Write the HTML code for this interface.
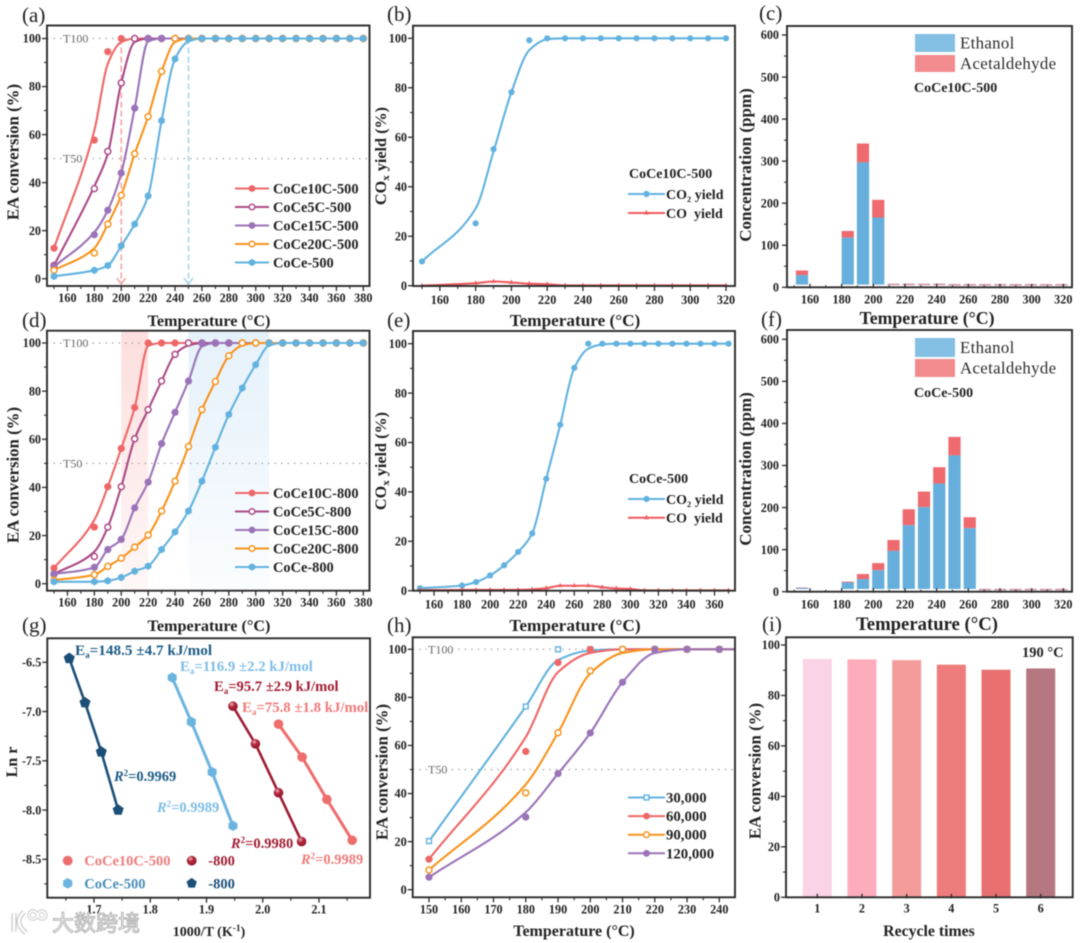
<!DOCTYPE html>
<html lang="en">
<head>
<meta charset="utf-8">
<title>Catalyst performance figure</title>
<style>
html,body{margin:0;padding:0;background:#fff;width:1080px;height:943px;overflow:hidden}
svg{display:block;font-family:"Liberation Serif","Noto Sans CJK SC",serif;filter:blur(.5px)}
.pl{font-size:21px;fill:#222}
.at{font-weight:bold;fill:#222;text-anchor:middle}
.an{font-weight:bold}
</style>
</head>
<body>
<svg id="fig" xmlns="http://www.w3.org/2000/svg" width="1080" height="943" viewBox="0 0 1080 943">
<defs>
<linearGradient id="bandRed" x1="0" y1="0" x2="0" y2="1"><stop offset="0" stop-color="#fcdfde"/><stop offset="1" stop-color="#fff7f7"/></linearGradient>
<linearGradient id="bandBlue" x1="0" y1="0" x2="0" y2="1"><stop offset="0" stop-color="#e5f1fa"/><stop offset="1" stop-color="#fbfdff"/></linearGradient>
<radialGradient id="sphere" cx=".38" cy=".3" r=".8"><stop offset="0" stop-color="#f3b9c0"/><stop offset=".35" stop-color="#b32a3e"/><stop offset="1" stop-color="#8a1226"/></radialGradient>
</defs>
<rect width="1080" height="943" fill="#fff"/>
<g id="plots"></g>

<g>
<text class="pl" x="22" y="22">(a)</text>
<text class="pl" x="387" y="21">(b)</text>
<text class="pl" x="759" y="20">(c)</text>
<text class="pl" x="22" y="327">(d)</text>
<text class="pl" x="387" y="327">(e)</text>
<text class="pl" x="761" y="326">(f)</text>
<text class="pl" x="22" y="632">(g)</text>
<text class="pl" x="387" y="632">(h)</text>
<text class="pl" x="762" y="631">(i)</text>
</g>

<g>
<text class="at" x="209" y="326" font-size="16.2">Temperature (°C)</text>
<text class="at" x="575" y="326" font-size="17.2">Temperature (°C)</text>
<text class="at" x="927" y="324" font-size="17.8">Temperature (°C)</text>
<text class="at" x="209" y="631" font-size="16.2">Temperature (°C)</text>
<text class="at" x="575" y="631" font-size="17.3">Temperature (°C)</text>
<text class="at" x="927" y="630" font-size="18.7">Temperature (°C)</text>
<text class="at" x="209" y="936" font-size="14">1000/T (K<tspan dy="-5" font-size="9.5">-1</tspan><tspan dy="5">)</tspan></text>
<text class="at" x="574" y="936" font-size="16">Temperature (°C)</text>
<text class="at" x="929" y="936" font-size="15.8">Recycle times</text>
</g>

<g>
<text class="at" transform="translate(18.5 152) rotate(-90)" font-size="16.8">EA conversion (%)</text>
<text class="at" transform="translate(386 156) rotate(-90)" font-size="16.2">CO<tspan font-size="11" dy="3">x</tspan><tspan dy="-3"> yield (%)</tspan></text>
<text class="at" transform="translate(751 165) rotate(-90)" font-size="17">Concentration (ppm)</text>
<text class="at" transform="translate(18.5 475) rotate(-90)" font-size="16.8">EA conversion (%)</text>
<text class="at" transform="translate(386 461) rotate(-90)" font-size="16.2">CO<tspan font-size="11" dy="3">x</tspan><tspan dy="-3"> yield (%)</tspan></text>
<text class="at" transform="translate(751 469) rotate(-90)" font-size="17">Concentration (ppm)</text>
<text class="at" transform="translate(17 762) rotate(-90)" font-size="16">Ln r</text>
<text class="at" transform="translate(387.5 772) rotate(-90)" font-size="16.8">EA conversion (%)</text>
<text class="at" transform="translate(760.5 771) rotate(-90)" font-size="16.8">EA conversion (%)</text>
</g>

<g class="an">
<text x="629" y="178" font-size="14" fill="#222">CoCe10C-500</text>
<text x="629" y="483" font-size="14" fill="#222">CoCe-500</text>
<text x="914" y="92" font-size="14" fill="#222">CoCe10C-500</text>
<text x="914" y="397" font-size="14" fill="#222">CoCe-500</text>
<text x="1022" y="657" font-size="14.5" fill="#222">190 °C</text>

<text x="75" y="655" font-size="15.2" fill="#1d5b85">E<tspan dy="3" font-size="9">a</tspan><tspan dy="-3">=148.5 ±4.7 kJ/mol</tspan></text>
<text x="180" y="671" font-size="14.8" fill="#7dbde6">E<tspan dy="3" font-size="9">a</tspan><tspan dy="-3">=116.9 ±2.2 kJ/mol</tspan></text>
<text x="214" y="691" font-size="14.6" fill="#a01c32">E<tspan dy="3" font-size="9">a</tspan><tspan dy="-3">=95.7 ±2.9 kJ/mol</tspan></text>
<text x="242" y="712" font-size="14.8" fill="#ef7a7a">E<tspan dy="3" font-size="9">a</tspan><tspan dy="-3">=75.8 ±1.8 kJ/mol</tspan></text>

<text x="114" y="781" font-size="14.5" fill="#1d5b85"><tspan font-style="italic">R</tspan><tspan dy="-5" font-size="9">2</tspan><tspan dy="5">=0.9969</tspan></text>
<text x="157" y="812" font-size="14.5" fill="#7dbde6"><tspan font-style="italic">R</tspan><tspan dy="-5" font-size="9">2</tspan><tspan dy="5">=0.9989</tspan></text>
<text x="231" y="848" font-size="14.5" fill="#a01c32"><tspan font-style="italic">R</tspan><tspan dy="-5" font-size="9">2</tspan><tspan dy="5">=0.9980</tspan></text>
<text x="301" y="864" font-size="14.5" fill="#ef7a7a"><tspan font-style="italic">R</tspan><tspan dy="-5" font-size="9">2</tspan><tspan dy="5">=0.9989</tspan></text>
</g>

<g>
<g fill="none" stroke="#c4c4c4" stroke-width="5">
<path d="M14 913 V932 M24 912 Q13 922 26 933"/>
<circle cx="33" cy="915" r="4" stroke-width="3.4"/>
<circle cx="42" cy="915" r="4" stroke-width="3.4"/>
</g>
<g fill="none" stroke="#fafafa" stroke-width="3">
<path d="M14 913 V932 M24 912 Q13 922 26 933"/>
<circle cx="33" cy="915" r="4" stroke-width="2"/>
<circle cx="42" cy="915" r="4" stroke-width="2"/>
</g>
<text x="52" y="931" font-size="22" style="font-family:'Liberation Sans','Noto Sans CJK SC',sans-serif" fill="#fafafa" stroke="#b5b5b5" stroke-width="1">大数跨境</text>
</g>
</svg>

<script>
/* ---------- chart data ---------- */
const tempsWide = [150,180,190,200,210,220,230,240,250,260,270,280,290,300,310,320,330,340,350,360,370,380];

/* panel a */
const a10C  = [12.7,57.7,94.5,100,100,100,100,100,100,100,100,100,100,100,100,100,100,100,100,100,100,100];
const a5C   = [5.5,37.5,53,81.5,100,100,100,100,100,100,100,100,100,100,100,100,100,100,100,100,100,100];
const a15C  = [5,18.3,28.5,44,71,100,100,100,100,100,100,100,100,100,100,100,100,100,100,100,100,100];
const a20C  = [3.5,10.7,22.7,34.7,52,67.5,86.3,100,100,100,100,100,100,100,100,100,100,100,100,100,100,100];
const aCoCe = [1,3.5,5.5,13.7,22.7,34.5,65.8,91.5,100,100,100,100,100,100,100,100,100,100,100,100,100,100];
/* gap between fitted curve and measured point, in % */
const a10CFit = {180:4,190:-5,200:-1.5};
const a5CFit = {180:1,190:-1,210:-1.5};
const a15CFit = {180:1,220:-1.2};
const a20CFit = {180:2,240:-1.5};
const aCoCeFit = {250:-1.2};
const aT100Arrows = [200,250];

/* panel d */
const d10C  = [6.5,23.5,40.3,56.2,73.2,100,100,100,100,100,100,100,100,100,100,100,100,100,100,100,100,100];
const d5C   = [4,11.3,23.5,40.3,60.2,72.3,84.2,95.3,100,100,100,100,100,100,100,100,100,100,100,100,100,100];
const d15C  = [4,6.8,14.2,18.4,31.5,42.2,58.2,71.2,84.2,100,100,100,100,100,100,100,100,100,100,100,100,100];
const d20C  = [1.5,3.7,7.2,10.6,15.2,20.2,30.2,42.6,57,72.3,84,94.7,100,100,100,100,100,100,100,100,100,100];
const dCoCe = [0.8,0.8,1.2,2.6,5.2,7.3,14.2,21.5,30.2,42.6,56.7,70.3,81.3,91,100,100,100,100,100,100,100,100];
const d10CFit = {180:3,220:-1.2};
const d5CFit = {180:2,250:-1};
const d15CFit = {260:-1.5};
const d20CFit = {290:-1};
const dCoCeFit = {310:-1};
const dBandRed = [200,220];
const dBandBlue = [250,310];

/* panel b */
const bTemps = [150,180,190,200,210,220,230,240,250,260,270,280,290,300,310,320];
const bCO2 = [9.8,25.2,55.2,78.2,99.2,100,100,100,100,100,100,100,100,100,100,100];
const bCO  = [0,1,1.7,1.3,0.8,0.6,0.1,0.1,0.1,0.1,0.1,0.1,0.1,0.1,0.1,0.1];
const bCO2Fit = {180:6,190:-1,210:-4,220:-.4};

/* panel e */
const eTemps = [150,180,190,200,210,220,230,240,250,260,270,280,290,300,310,320,330,340,350,360,370];
const eCO2 = [1,2.1,3.5,6.2,10.3,15.7,23.2,45.3,67.2,90.2,100,100,100,100,100,100,100,100,100,100,100];
const eCO  = [0.2,0.3,0.3,0.3,0.3,0.3,0.5,1,2,2,2,1.4,0.9,0.7,0.1,0.1,0.1,0.1,0.1,0.1,0.1];
const eCO2Fit = {270:-2,280:-.3};

/* panels c and f */
const barTemps = [150,180,190,200,210,220,230,240,250,260,270,280,290,300,310,320];
const cEthanol = [29,118,297,166,6,6,6,6,6,6,6,6,6,6,6,6];
const cTotal   = [40,134,342,208,7,7,7,7,6,6,6,6,6,6,6,6];
const fEthanol = [9,22,30,51,97,158,201,257,324,151,4,4,4,4,4,4];
const fTotal   = [10,24,42,68,123,196,238,296,368,177,5,5,5,5,5,5];

/* panel g */
const g800Co  = [1.656,1.684,1.713,1.743];
const g800Ln  = [-6.46,-6.91,-7.41,-8.0];
const g500Co  = [1.839,1.873,1.910,1.947];
const g500Ln  = [-6.655,-7.105,-7.615,-8.16];
const g10C800X = [1.947,1.987,2.028,2.069];
const g10C800Y = [-6.946,-7.328,-7.824,-8.32];
const g10C500X = [2.028,2.070,2.114,2.159];
const g10C500Y = [-7.128,-7.463,-7.892,-8.307];

/* panel h */
const hTemps = [150,180,190,200,210,220,230,240,250];
const h30k  = [20.2,76.2,100,100,100,100,100,100,100];
const h60k  = [12.7,57.5,94.5,100,100,100,100,100,100];
const h90k  = [8.2,40.3,65.3,91,100,100,100,100,100];
const h120k = [5.2,30.2,48.3,65.2,86.3,100,100,100,100];
const h30kFit = {190:-4.5,200:-.5};
const h60kFit = {180:6,190:-4,200:-1.5};
const h90kFit = {180:3.5,200:-1,210:-1.5};
const h120kFit = {180:2,220:-1.5};

/* panel i */
const recycleRuns = [1,2,3,4,5,6];
const recycleValues = [94.5,94.3,94,92.2,90.2,90.7];
const recycleColors = ['#FBD3E6','#FDACBB','#F49C9C','#EF7C7C','#E87070','#B57780'];

/* tick labels */
const xTicksWide = [160,180,200,220,240,260,280,300,320,340,360,380];
const xTicksB = [160,180,200,220,240,260,280,300,320];
const xTicksE = [160,180,200,220,240,260,280,300,320,340,360];
const xTicksG = [1.7,1.8,1.9,2.0,2.1];
const xTicksH = [150,160,170,180,190,200,210,220,230,240];
const yTicksPct = [0,20,40,60,80,100];
const yTicksPpm = [0,100,200,300,400,500,600];
const yTicksLn = [-6.5,-7.0,-7.5,-8.0,-8.5];

/* ---------- helpers ---------- */
const NS = 'http://www.w3.org/2000/svg';
const root = document.getElementById('plots');
function el(tag, attrs, parent){
  const n = document.createElementNS(NS, tag);
  for (const k in attrs) n.setAttribute(k, attrs[k]);
  parent.appendChild(n);
  return n;
}
function scale(d0, r0, d1, r1){
  return v => r0 + (v - d0) * (r1 - r0) / (d1 - d0);
}
function smoothPath(xs, ys){
  const n = xs.length, h = [], m = [], t = [];
  for (let i = 0; i < n - 1; i++){
    h[i] = xs[i+1] - xs[i];
    m[i] = (ys[i+1] - ys[i]) / h[i];
  }
  t[0] = m[0];
  t[n-1] = m[n-2];
  for (let i = 1; i < n - 1; i++){
    t[i] = m[i-1] * m[i] <= 0 ? 0 :
      3 * (h[i-1] + h[i]) / ((2*h[i] + h[i-1]) / m[i-1] + (h[i] + 2*h[i-1]) / m[i]);
  }
  let d = 'M' + xs[0].toFixed(2) + ' ' + ys[0].toFixed(2);
  for (let i = 0; i < n - 1; i++){
    d += 'C' + (xs[i] + h[i]/3).toFixed(2) + ' ' + (ys[i] + t[i]*h[i]/3).toFixed(2) + ' ' +
         (xs[i+1] - h[i]/3).toFixed(2) + ' ' + (ys[i+1] - t[i+1]*h[i]/3).toFixed(2) + ' ' +
         xs[i+1].toFixed(2) + ' ' + ys[i+1].toFixed(2);
  }
  return d;
}
function polyPoints(x, y, r, sides, rot){
  const p = [];
  for (let i = 0; i < sides; i++){
    const a = rot + i * 2 * Math.PI / sides;
    p.push((x + r*Math.cos(a)).toFixed(2) + ',' + (y + r*Math.sin(a)).toFixed(2));
  }
  return p.join(' ');
}
function drawMarker(parent, type, x, y, r, color, name){
  let m;
  if (type === 'circle') m = el('circle', {cx:x, cy:y, r:r, fill:color}, parent);
  else if (type === 'open') m = el('circle', {cx:x, cy:y, r:r-0.6, fill:'#fff', stroke:color, 'stroke-width':1.5}, parent);
  else if (type === 'sphere') m = el('circle', {cx:x, cy:y, r:r, fill:'url(#sphere)'}, parent);
  else if (type === 'square') m = el('rect', {x:x-r+.6, y:y-r+.6, width:2*r-1.2, height:2*r-1.2, fill:'#fff', stroke:color, 'stroke-width':1.4}, parent);
  else if (type === 'hex') m = el('polygon', {points:polyPoints(x, y, r*1.08, 6, Math.PI/6), fill:color}, parent);
  else if (type === 'pent') m = el('polygon', {points:polyPoints(x, y, r*1.1, 5, -Math.PI/2), fill:color}, parent);
  else m = el('polygon', {points:polyPoints(x, y, r, 3, -Math.PI/2), fill:color}, parent);
  
  
  return m;
}

let clipCount = 0;
function makePanel(id, f, sx, sy, xTicks, yTicks, o){
  o = o || {};
  const g = el('g', {}, root);
  
  
  const back = el('g', {}, g);
  
  
  const clipId = 'clip' + (++clipCount);
  const cp = el('clipPath', {id:clipId}, g);
  el('rect', {x:f.l, y:f.t, width:f.r-f.l, height:f.b-f.t}, cp);
  back.setAttribute('clip-path', 'url(#' + clipId + ')');

  const axes = el('g', {stroke:'#2b2b2b', 'font-size':12.2}, g);
  
  
  function tick(x1, y1, x2, y2, w, name){
    const t = el('line', {x1:x1, y1:y1, x2:x2, y2:y2, 'stroke-width':w}, axes);
    
    
  }
  const up = o.xCross ? 3.5 : 0, dn = o.xCross ? 1 : 5;
  xTicks.forEach(v => {
    const x = sx(v);
    tick(x, f.b - up, x, f.b + dn, 1.3, 'x-tick-' + id);
    const lb = el('text', {x:x, y:f.b + (o.xLabelGap || 16), 'text-anchor':'middle', 'font-weight':'bold', fill:'#222', stroke:'none'}, axes);
    lb.textContent = o.xFmt ? o.xFmt(v) : v;
    
    
  });
  if (!o.noXMinor && xTicks.length > 1){
    const step = xTicks[1] - xTicks[0];
    for (let v = xTicks[0] - step/2; v <= xTicks[xTicks.length-1] + step; v += step){
      const x = sx(v);
      if (x > f.l + 1 && x < f.r - 1) tick(x, f.b - (o.xCross ? 2 : 0), x, f.b + (o.xCross ? 0 : 3), 1.1, 'x-minor-tick-' + id);
    }
  }
  yTicks.forEach(v => {
    const y = sy(v);
    tick(f.l - 5, y, f.l, y, 1.3, 'y-tick-' + id);
    const lb = el('text', {x:f.l - (o.yLabelGap || 6), y:y + 4.2, 'text-anchor':'end', 'font-weight':'bold', fill:'#222', stroke:'none'}, axes);
    lb.textContent = o.yFmt ? o.yFmt(v) : v;
    
    
  });
  const ystep = yTicks[1] - yTicks[0];
  for (let v = yTicks[0] - ystep/2; ; v += ystep){
    const y = sy(v);
    if (ystep > 0 ? y < f.t : y > f.b) break;
    if (y > f.t + 1 && y < f.b - 1) tick(f.l - 3, y, f.l, y, 1.1, 'y-minor-tick-' + id);
  }
  const frame = el('rect', {x:f.l, y:f.t, width:f.r-f.l, height:f.b-f.t, fill:'none', stroke:'#2b2b2b', 'stroke-width':1.9}, g);
  
  
  return {g:g, back:back, sx:sx, sy:sy, f:f, id:id};
}

function addSeries(p, xs, values, fit, color, marker, r, name, lw){
  const s = el('g', {}, p.back);
  
  
  const px = xs.map(p.sx);
  const py = values.map((v, i) => p.sy(v + ((fit && fit[xs[i]]) || 0)));
  const line = el('path', {d:smoothPath(px, py), fill:'none', stroke:color, 'stroke-width':lw || 2.1}, s);
  
  
  values.forEach((v, i) => drawMarker(s, marker, px[i], p.sy(v), r, color, 'point-' + name));
}

function addGuides(p, labelX){
  [[100,'T100'],[50,'T50']].forEach(([v, label]) => {
    const y = p.sy(v);
    const l = el('line', {x1:p.f.l, x2:p.f.r, y1:y, y2:y, stroke:'#8e8e8e', 'stroke-width':1, 'stroke-dasharray':'1.5 5'}, p.back);
    
    
    const t = el('text', {x:labelX, y:y + 4, 'font-size':12, fill:'#666', stroke:'#fff', 'stroke-width':3, 'paint-order':'stroke'}, p.back);
    t.textContent = label;
    
    
  });
}

function addLegend(x0, x1, tx, y0, dy, size, rows){
  const g = el('g', {}, root);
  
  
  rows.forEach((row, i) => {
    const y = y0 + i * dy;
    const e = el('g', {}, g);
    
    
    const line = el('line', {x1:x0, x2:x1, y1:y, y2:y, stroke:row[1], 'stroke-width':2}, e);
    
    
    drawMarker(e, row[2], (x0+x1)/2, y, row[3] || 3.4, row[1], 'legend-marker');
    const t = el('text', {x:tx, y:y + size*0.34, 'font-size':size, 'font-weight':'bold', fill:'#222'}, e);
    t.textContent = row[0];
    
    
  });
}

function addStackedBars(p, temps, ethanol, total){
  const barX = scale(150, 802, 160, 817.25);
  const w = 12.2, base = 6.5;
  temps.forEach((t, i) => {
    const x = barX(t) - w/2;
    const yBase = p.sy(base), yE = p.sy(ethanol[i]), yT = p.sy(total[i]);
    if (total[i] <= base + 1){
      const dash = el('rect', {x:x, y:yT - .8, width:w, height:1.6, fill:'#d498ae'}, p.back);
      
      
      return;
    }
    const a = el('rect', {x:x, y:yT, width:w, height:Math.max(0.6, yE - yT), fill:'#EE6A6E'}, p.back);
    
    
    const b = el('rect', {x:x, y:yE, width:w, height:Math.max(0.6, yBase - yE), fill:'#66AEDB'}, p.back);
    
    
  });
}

function addSwatches(y1, y2, y3, y4){
  const g = el('g', {}, root);
  
  
  [['Ethanol','#84C0E4',y1,y2],['Acetaldehyde','#F28B8D',y3,y4]].forEach(row => {
    const r = el('rect', {x:915, y:row[2], width:40, height:row[3]-row[2], fill:row[1]}, g);
    
    
    const t = el('text', {x:960, y:(row[2]+row[3])/2 + 5.5, 'font-size':16.8, 'letter-spacing':'.35', fill:'#2c2c2c'}, g);
    t.textContent = row[0];
    
    
  });
}

/* ---------- colours ---------- */
const RED = '#EE6767', MAG = '#AC4A86', PUR = '#9B73B8', ORA = '#F7941D', BLU = '#62B2DF', COR = '#EE5A5F';

/* ---------- panel a ---------- */
{
  const f = {l:47, r:369.5, t:25.5, b:286};
  const p = makePanel('a', f, scale(150,54,380,363.3), scale(0,278.7,100,38.5), xTicksWide, yTicksPct, {xLabelGap:16});
  addGuides(p, 63);
  aT100Arrows.forEach((t, i) => {
    const c = i ? '#AAD7F0' : '#F4A6A6';
    const x = p.sx(t), y0 = p.sy(100), y1 = f.b - 2;
    const l = el('line', {x1:x, x2:x, y1:y0, y2:y1, stroke:c, 'stroke-width':1.6, 'stroke-dasharray':'6 3'}, p.back);
    
    
    const h = el('path', {d:'M'+(x-4.5)+' '+(y1-6)+' L'+x+' '+y1+' L'+(x+4.5)+' '+(y1-6), fill:'none', stroke:c, 'stroke-width':1.6}, p.back);
    
    
  });
  addSeries(p, tempsWide, a10C, a10CFit, RED, 'circle', 3.6, 'coce10c-500');
  addSeries(p, tempsWide, a5C, a5CFit, MAG, 'open', 3.6, 'coce5c-500');
  addSeries(p, tempsWide, a15C, a15CFit, PUR, 'circle', 3.6, 'coce15c-500');
  addSeries(p, tempsWide, a20C, a20CFit, ORA, 'open', 3.6, 'coce20c-500');
  addSeries(p, tempsWide, aCoCe, aCoCeFit, BLU, 'hex', 3.5, 'coce-500');
  addLegend(235, 269, 273, 188.5, 18.5, 14.4, [
    ['CoCe10C-500',RED,'circle'],['CoCe5C-500',MAG,'open'],['CoCe15C-500',PUR,'circle'],
    ['CoCe20C-500',ORA,'open'],['CoCe-500',BLU,'hex']]);
}

/* ---------- panel d ---------- */
{
  const f = {l:47, r:369.5, t:330.7, b:590.7};
  const p = makePanel('d', f, scale(150,54,380,363.3), scale(0,583.7,100,343), xTicksWide, yTicksPct, {xLabelGap:16});
  [[dBandRed,'bandRed','band-t100-doped'],[dBandBlue,'bandBlue','band-t100-undoped']].forEach(b => {
    const r = el('rect', {x:p.sx(b[0][0]), y:f.t, width:p.sx(b[0][1]) - p.sx(b[0][0]), height:f.b-f.t, fill:'url(#' + b[1] + ')'}, p.back);
    
    
  });
  addGuides(p, 63);
  addSeries(p, tempsWide, d10C, d10CFit, RED, 'circle', 3.6, 'coce10c-800');
  addSeries(p, tempsWide, d5C, d5CFit, MAG, 'open', 3.6, 'coce5c-800');
  addSeries(p, tempsWide, d15C, d15CFit, PUR, 'circle', 3.6, 'coce15c-800');
  addSeries(p, tempsWide, d20C, d20CFit, ORA, 'open', 3.6, 'coce20c-800');
  addSeries(p, tempsWide, dCoCe, dCoCeFit, BLU, 'hex', 3.5, 'coce-800');
  addLegend(235, 269, 273, 493, 18.5, 14.4, [
    ['CoCe10C-800',RED,'circle'],['CoCe5C-800',MAG,'open'],['CoCe15C-800',PUR,'circle'],
    ['CoCe20C-800',ORA,'open'],['CoCe-800',BLU,'hex']]);
}

/* ---------- panel b ---------- */
{
  const f = {l:413, r:735, t:25.7, b:286};
  const p = makePanel('b', f, scale(150,422,320,726), scale(0,285.7,100,38.3), xTicksB, yTicksPct, {xLabelGap:18});
  addSeries(p, bTemps, bCO2, bCO2Fit, BLU, 'circle', 3.1, 'co2-yield');
  addSeries(p, bTemps, bCO, null, COR, 'tri', 2.8, 'co-yield');
  addLegend(628, 665, 666, 194, 19, 14, [['CO₂ yield',BLU,'circle',3.1],['CO\u00a0 yield',COR,'tri',3]]);
}

/* ---------- panel e ---------- */
{
  const f = {l:413, r:735, t:331, b:590.7};
  const p = makePanel('e', f, scale(150,420,360,714.5), scale(0,590.7,100,343.7), xTicksE, yTicksPct, {xLabelGap:18});
  addSeries(p, eTemps, eCO2, eCO2Fit, BLU, 'circle', 3.1, 'co2-yield');
  addSeries(p, eTemps, eCO, null, COR, 'tri', 2.8, 'co-yield');
  addLegend(628, 665, 666, 499, 18.7, 14, [['CO₂ yield',BLU,'circle',3.1],['CO\u00a0 yield',COR,'tri',3]]);
}

/* ---------- panel c ---------- */
{
  const f = {l:787, r:1072, t:26, b:287.3};
  const p = makePanel('c', f, scale(160,810,320,1063.3), scale(0,287.3,600,35), xTicksB, yTicksPpm, {xLabelGap:16, xCross:true, yLabelGap:8});
  addStackedBars(p, barTemps, cEthanol, cTotal);
  addSwatches(34, 52, 55, 72);
}

/* ---------- panel f ---------- */
{
  const f = {l:787, r:1072, t:330, b:591.7};
  const p = makePanel('f', f, scale(160,810,320,1063.3), scale(0,591.7,600,339.3), xTicksB, yTicksPpm, {xLabelGap:17, xCross:true, yLabelGap:8});
  addStackedBars(p, barTemps, fEthanol, fTotal);
  addSwatches(338, 357, 359, 377);
}

/* ---------- panel g ---------- */
{
  const f = {l:47.3, r:370, t:638.3, b:897.7};
  const p = makePanel('g', f, scale(1.7,94,2.1,319), scale(-6.5,662.3,-8.5,859.3), xTicksG, yTicksLn,
    {xLabelGap:16, xFmt:v => v.toFixed(1), yFmt:v => v.toFixed(1)});
  function fitLine(xs, ys, color, w, marker, r, name){
    const s = el('g', {}, p.back);
    
    
    const line = el('polyline', {points:xs.map((x, i) => p.sx(x) + ',' + p.sy(ys[i])).join(' '), fill:'none', stroke:color, 'stroke-width':w}, s);
    
    
    xs.forEach((x, i) => drawMarker(s, marker, p.sx(x), p.sy(ys[i]), r, color, 'point-' + name));
  }
  fitLine(g10C500X, g10C500Y, '#EE6D6D', 3, 'circle', 4.8, 'coce10c-500');
  fitLine(g10C800X, g10C800Y, '#A01C32', 2.6, 'sphere', 4.8, 'coce10c-800');
  fitLine(g500Co, g500Ln, '#6CB4E0', 3, 'hex', 4.8, 'coce-500');
  fitLine(g800Co, g800Ln, '#1B4F78', 2.6, 'pent', 5.3, 'coce-800');
  const lg = el('g', {'font-size':14.5, 'font-weight':'bold'}, root);
  
  
  [['CoCe10C-500','#EE6D6D','#EE7C7C','circle',67.7,84.3,860.7],
   ['-800','#A01C32','#A01C32','sphere',191.7,208.3,860.7],
   ['CoCe-500','#6CB4E0','#4A8FB8','hex',67.7,84.3,883.3],
   ['-800','#1B4F78','#1B4F78','pent',191.7,208.3,883.3]].forEach(r => {
    drawMarker(lg, r[3], r[4], r[6], 4.9, r[1], 'legend-marker');
    const t = el('text', {x:r[5], y:r[6] + 5, fill:r[2]}, lg);
    t.textContent = r[0];
    
    
  });
}

/* ---------- panel h ---------- */
{
  const f = {l:412.7, r:735, t:637.3, b:897.3};
  const p = makePanel('h', f, scale(150,429,240,719.3), scale(0,889.7,100,649.3), xTicksH, yTicksPct, {xLabelGap:16});
  addGuides(p, 428);
  addSeries(p, hTemps, h30k, h30kFit, BLU, 'square', 3, 'ghsv-30000');
  addSeries(p, hTemps, h60k, h60kFit, RED, 'circle', 3.6, 'ghsv-60000');
  addSeries(p, hTemps, h90k, h90kFit, ORA, 'open', 3.6, 'ghsv-90000');
  addSeries(p, hTemps, h120k, h120kFit, PUR, 'circle', 3.6, 'ghsv-120000');
  addLegend(628, 665, 666, 797.5, 18.6, 14.8, [
    ['30,000',BLU,'square',3],['60,000',RED,'circle'],['90,000',ORA,'open'],['120,000',PUR,'circle']]);
}

/* ---------- panel i ---------- */
{
  const f = {l:786, r:1072.7, t:637.3, b:897.3};
  const p = makePanel('i', f, scale(1,817.3,6,1040.7), scale(0,897.3,100,645), recycleRuns, yTicksPct,
    {xLabelGap:15, xCross:true, noXMinor:true, yLabelGap:6});
  recycleRuns.forEach((run, i) => {
    const y = p.sy(recycleValues[i]);
    const b = el('rect', {x:p.sx(run) - 14.5, y:y, width:29, height:f.b - y, fill:recycleColors[i]}, p.back);
    
    
  });
}
</script>
</body>
</html>
